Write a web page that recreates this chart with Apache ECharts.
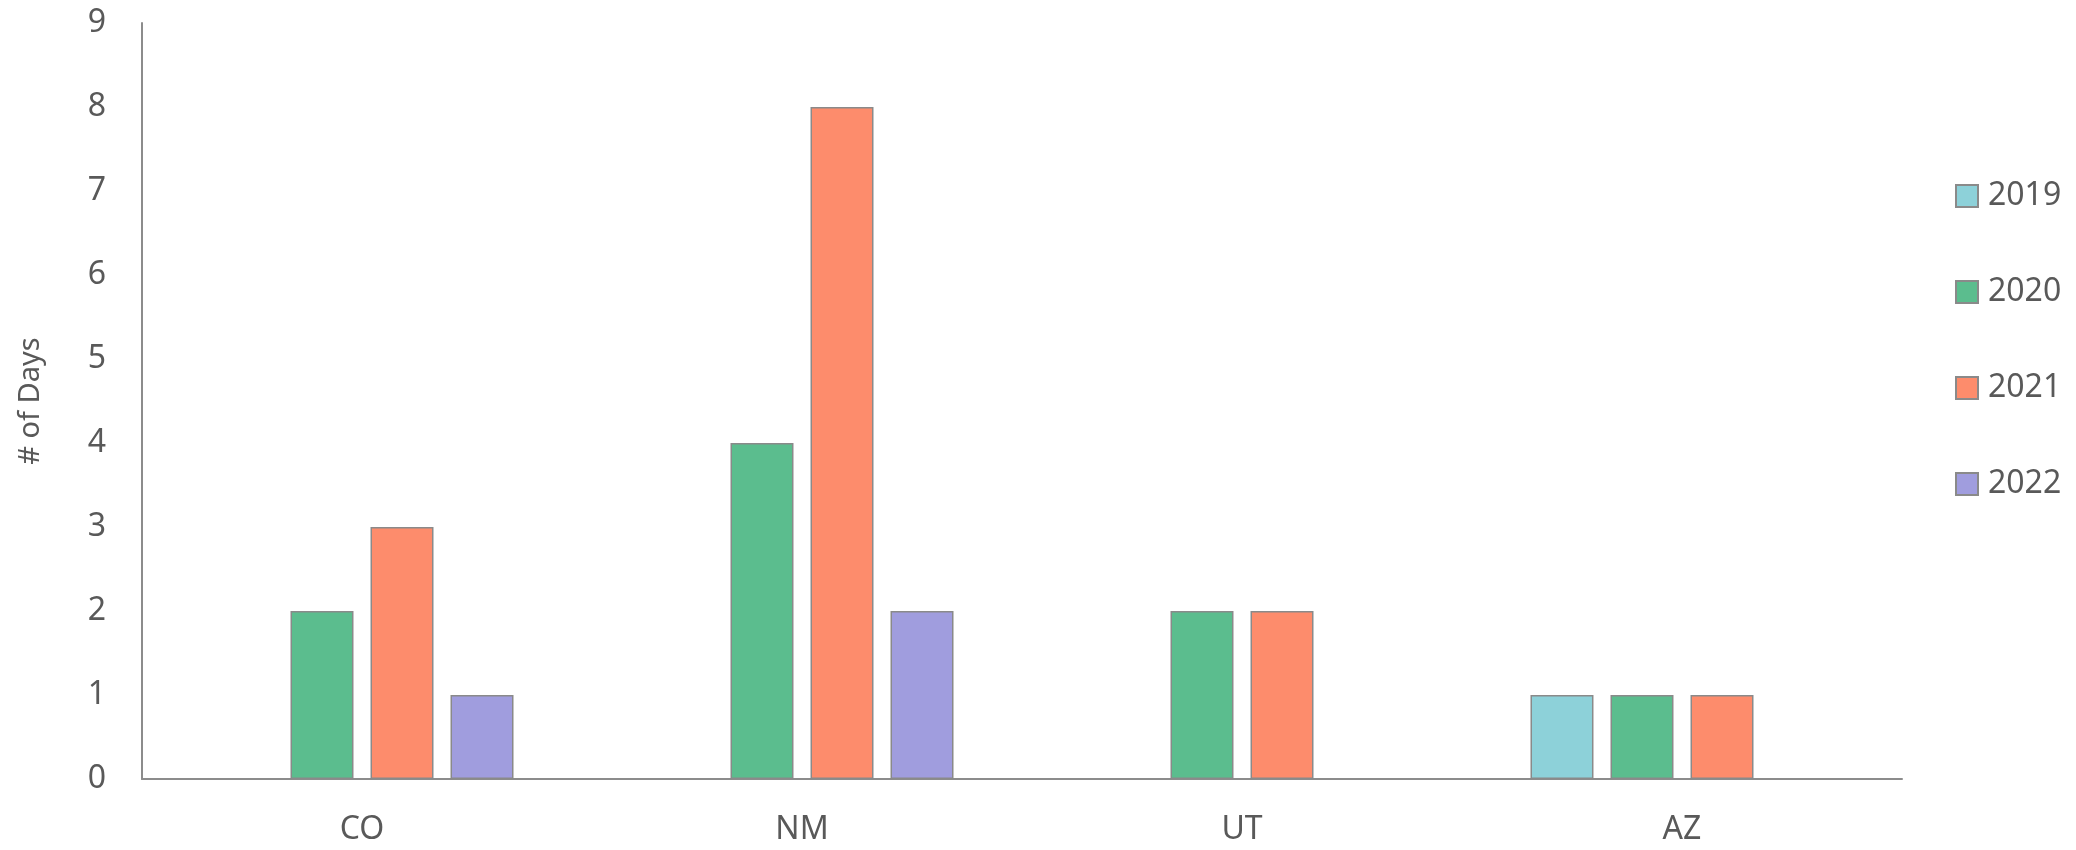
<!DOCTYPE html>
<html>
<head>
<meta charset="utf-8">
<script src="https://cdn.jsdelivr.net/npm/echarts@6/dist/echarts.min.js"></script>
<style>
  html, body { margin: 0; padding: 0; background: #fff; }
  #chart { width: 2076px; height: 850px; }
</style>
</head>
<body>
<div id="chart"></div>
<script>
const states = ['CO', 'NM', 'UT', 'AZ'];
const years = ['2019', '2020', '2021', '2022'];
// days per state, one array per year (null = no bar)
const days2019 = [null, null, null, 1];
const days2020 = [2, 4, 2, 1];
const days2021 = [3, 8, 2, 1];
const days2022 = [1, 2, null, null];
const yTicks = [0, 1, 2, 3, 4, 5, 6, 7, 8, 9];

const COLORS = ['#8DD1D9', '#5BBD8E', '#FD8C6C', '#A09DDE'];
const TEXT = '#595959';
const FONT = '"Noto Sans", sans-serif';

const chart = echarts.init(document.getElementById('chart'));

const seriesData = [days2019, days2020, days2021, days2022];

chart.setOption({
    animation: false,
    textStyle: { fontFamily: FONT },
    grid: { left: 142, right: 174, top: 23, bottom: 71 },
    legend: {
        orient: 'vertical',
        left: 1950,
        top: 175,
        icon: 'rect',
        itemWidth: 22,
        itemHeight: 22,
        itemGap: 64,
        textStyle: { fontSize: 32, color: TEXT, lineHeight: 32, fontFamily: FONT, padding: [0, 0, 0, 5] },
        data: years,
    },
    xAxis: {
        type: 'category',
        data: states,
        axisLine: { lineStyle: { color: '#8c8c8c', width: 2 } },
        axisTick: { show: false },
        axisLabel: { fontSize: 32, color: TEXT, margin: 35 },
    },
    yAxis: {
        type: 'value',
        min: yTicks[0],
        max: yTicks[yTicks.length - 1],
        interval: 1,
        name: '# of Days',
        nameLocation: 'middle',
        nameGap: 97,
        nameTextStyle: { fontSize: 29, color: TEXT },
        axisLine: { show: true, lineStyle: { color: '#8c8c8c', width: 2 } },
        axisTick: { show: false },
        splitLine: { show: false },
        axisLabel: { fontSize: 32, color: TEXT, margin: 36 },
    },
    series: years.map((y, i) => ({
        name: y,
        type: 'bar',
        data: seriesData[i],
        barWidth: 63,
        barGap: '27%',
        itemStyle: { color: COLORS[i], borderColor: '#8a8a8a', borderWidth: 1.5 },
    })),
});
</script>
</body>
</html>
